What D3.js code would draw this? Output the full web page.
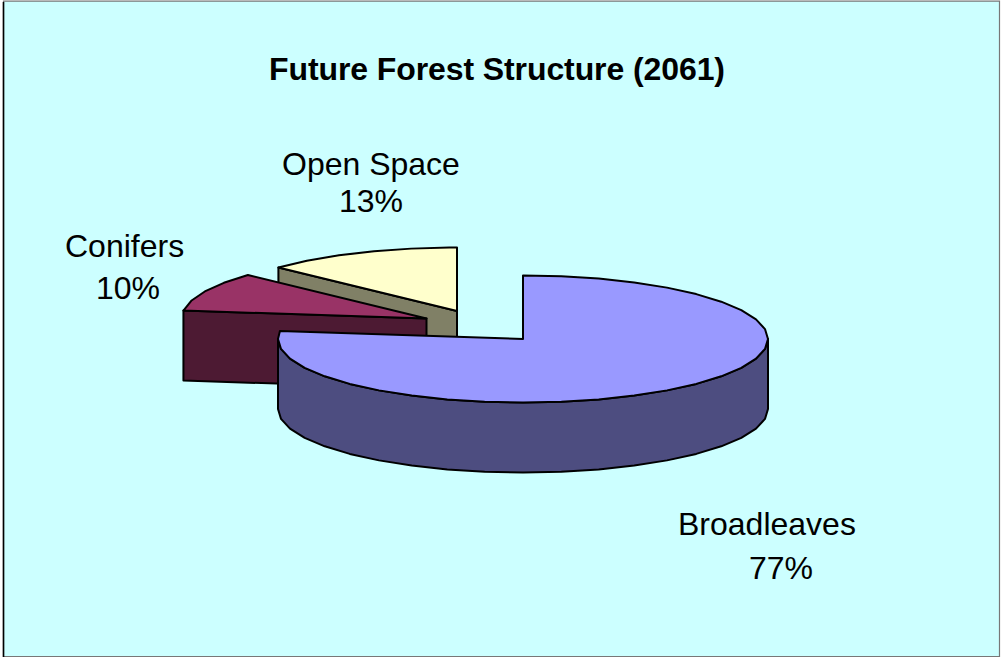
<!DOCTYPE html>
<html><head><meta charset="utf-8">
<style>html,body{margin:0;padding:0;background:#fff}svg{display:block}text{font-family:"Liberation Sans",Arial,sans-serif;fill:#000}</style>
<script src="https://cdn.jsdelivr.net/npm/d3@7"></script></head>
<body><svg id="c" width="1001" height="657"></svg>
<script>
const categories = ["Broadleaves","Conifers","Open Space"];
const values = [77,10,13];
const topColors = ["#9999FF","#993366","#FFFFCC"];
const sideColors = ["#4D4D80","#4D1A33","#808066"];
const titleText = "Future Forest Structure (2061)";

const W=1001,H=657, RX=245, RY=63.5, DEPTH=70, STEP=Math.PI/20;
const centers=[[523,339],[426.5,318.5],[457,311]];
const labelPos=[[678,535,749,579],[65,257,96,299],[282,175,339,212]];

const svg=d3.select("#c");
svg.append("rect").attr("x",3).attr("y",1).attr("width",996).attr("height",655).attr("fill","#CCFFFF");
svg.append("path").attr("d","M3.5 657V1.2H999.5V656.5H3.5").attr("fill","none").attr("stroke","#777").attr("stroke-width",1.2);
svg.append("line").attr("x1",3.5).attr("x2",3.5).attr("y1",2).attr("y2",657).attr("stroke","#000").attr("stroke-width",1.6);

const arcs=d3.pie().sort(null).value(d=>d)(values);
const px=d3.scaleLinear().domain([-1,1]);
const py=d3.scaleLinear().domain([-1,1]);
function proj(i,a,dz=0){
  const [cx,cy]=centers[i];
  px.range([cx-RX,cx+RX]); py.range([cy+RY,cy-RY]);
  return [px(Math.sin(a)),py(Math.cos(a))+dz];
}
function angles(a0,a1){
  const r=d3.range(a0,a1,STEP); r.push(a1); return r;
}
const line=d3.line();
const style=(s,fill)=>s.attr("fill",fill).attr("stroke","#000").attr("stroke-width",2).attr("stroke-linejoin","round");
const g=svg.append("g");

function drawFace(i,a){
  const [cx,cy]=centers[i], p=proj(i,a);
  style(g.append("path").attr("d",line([[cx,cy],p,[p[0],p[1]+DEPTH],[cx,cy+DEPTH]])+"Z"),sideColors[i]);
}
function drawTop(i){
  const d=arcs[i];
  const pts=[centers[i],...angles(d.startAngle,d.endAngle).map(a=>proj(i,a))];
  style(g.append("path").attr("d",line(pts)+"Z"),topColors[i]);
}
function drawOuter(i){
  const d=arcs[i];
  const a0=Math.max(d.startAngle,Math.PI/2), a1=Math.min(d.endAngle,Math.PI*1.5);
  if(a1<=a0) return;
  const as=angles(a0,a1);
  const pts=[...as.map(a=>proj(i,a)),...as.slice().reverse().map(a=>proj(i,a,DEPTH))];
  style(g.append("path").attr("d",line(pts)+"Z"),sideColors[i]);
}
// back to front: open space, conifers, broadleaves
drawFace(2,arcs[2].startAngle); drawTop(2);
drawFace(1,arcs[1].startAngle); drawTop(1);
drawOuter(0); drawTop(0);

svg.append("text").attr("x",269).attr("y",80).attr("font-size",32).attr("font-weight","bold").attr("textLength",456).text(titleText);
categories.forEach((c,i)=>{
  const t=labelPos[i];
  svg.append("text").attr("x",t[0]).attr("y",t[1]).attr("font-size",32).text(c);
  svg.append("text").attr("x",t[2]).attr("y",t[3]).attr("font-size",32).text(values[i]+"%");
});
</script></body></html>
